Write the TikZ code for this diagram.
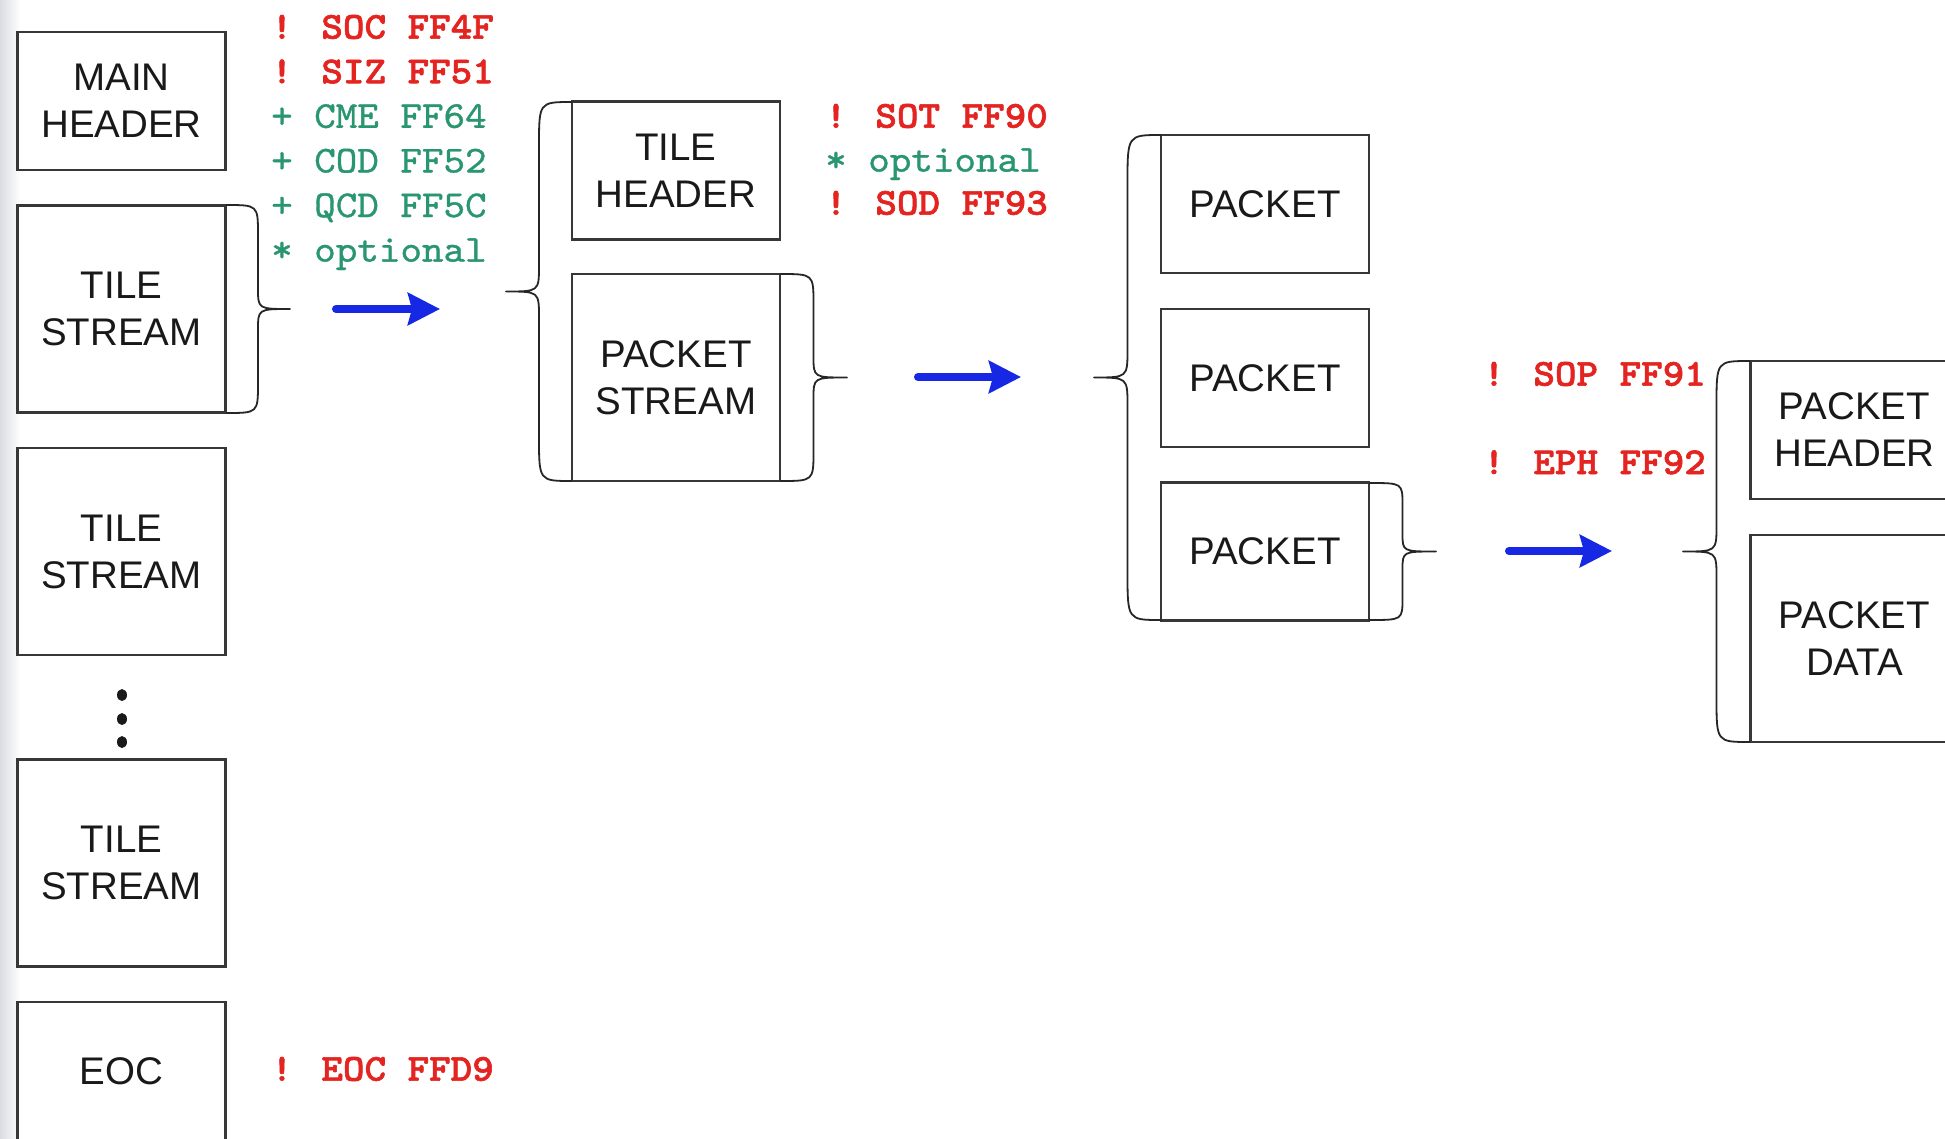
\documentclass[tikz,border=0pt]{standalone}
\usepackage{fontspec}
\setmainfont{Liberation Sans}
\newfontfamily\markbold{lmmonolt10-bold.otf}[FakeStretch=1.08, FakeBold=1.6]
\newfontfamily\markreg{lmmono10-regular.otf}[FakeStretch=1.08, FakeBold=0.9]
\usetikzlibrary{arrows.meta}
\definecolor{mkred}{RGB}{228,36,32}
\definecolor{mkgreen}{RGB}{42,150,112}
\definecolor{flow}{RGB}{22,40,228}
\definecolor{edge}{RGB}{55,55,55}
\definecolor{bgside}{RGB}{218,220,226}
\tikzset{
  blk/.style={draw=edge, line width=2.2pt, fill=white, minimum width=208pt, inner sep=0pt,
    align=center, font=\fontsize{38.5}{47}\selectfont, text=black!90},
  shortblk/.style={blk, minimum height=138pt},
  tallblk/.style={blk, minimum height=207pt},
  brc/.style={draw=black!85, line width=1.8pt, line join=round},
  flowarrow/.style={draw=flow, line width=8pt, line cap=round,
    -{Stealth[length=32pt,width=32pt,inset=4pt]}},
  redmk/.style={anchor=base west, inner sep=0pt, text=mkred, font=\fontsize{38}{44}\markbold},
  greenmk/.style={anchor=base west, inner sep=0pt, text=mkgreen, font=\fontsize{38}{44}\markreg},
}
\newcommand\curlybrace[6]{%
  \pgfmathsetmacro\bxa{#1+(#4)/2}%
  \pgfmathsetmacro\bxt{#1+(#4)}%
  \pgfmathsetmacro\bym{(#2+#3)/2}%
  \pgfmathsetmacro\byb{#2+#5}%
  \pgfmathsetmacro\byc{\bym-#6}%
  \pgfmathsetmacro\byd{\bym+#6}%
  \pgfmathsetmacro\bye{#3-#5}%
  \draw[brc] (#1,#2) .. controls (\bxa,#2) .. (\bxa,\byb) -- (\bxa,\byc)
    .. controls (\bxa,\bym) .. (\bxt,\bym) .. controls (\bxa,\bym) .. (\bxa,\byd)
    -- (\bxa,\bye) .. controls (\bxa,#3) .. (#1,#3);
}
\begin{document}
\begin{tikzpicture}[x=1pt,y=-1pt]
\useasboundingbox (0,0) rectangle (1945,1138);
\fill[white] (0,0) rectangle (1945,1138);
\shade[left color=bgside, right color=white] (0,0) rectangle (20,1138);

% left column
\node[shortblk] (mainhdr) at (121.5,101) {MAIN\\HEADER};
\node[tallblk] (ts1) at (121.5,309) {TILE\\STREAM};
\node[tallblk] (ts2) at (121.5,551.5) {TILE\\STREAM};
\node[tallblk] (ts3) at (121.5,863) {TILE\\STREAM};
\node[shortblk] (eoc) at (121.5,1071) {EOC};
\fill[black!90] (122,695) ellipse [x radius=5pt, y radius=6pt];
\fill[black!90] (122,719) ellipse [x radius=5pt, y radius=6pt];
\fill[black!90] (122,742) ellipse [x radius=5pt, y radius=6pt];

% tile
\node[shortblk] (tilehdr) at (676,170.5) {TILE\\HEADER};
\node[tallblk] (pktstream) at (676,377.5) {PACKET\\STREAM};

% packets
\node[shortblk] (pk1) at (1265,204) {PACKET};
\node[shortblk] (pk2) at (1265,378) {PACKET};
\node[shortblk] (pk3) at (1265,551.5) {PACKET};

% packet parts
\node[shortblk] (pkthdr) at (1854.5,430) {PACKET\\HEADER};
\node[tallblk] (pktdata) at (1854.5,638.5) {PACKET\\DATA};

% braces
\curlybrace{226}{205}{413}{64}{30}{21}
\curlybrace{572}{102}{481}{-66}{44}{26}
\curlybrace{780}{274}{481}{67}{30}{21}
\curlybrace{1161}{135}{620}{-67}{48}{28}
\curlybrace{1369}{483}{620}{67}{22}{18}
\curlybrace{1750}{361}{742}{-67}{44}{26}

% arrows
\coordinate (arr1s) at (336,309);
\coordinate (arr1e) at (440,309);
\coordinate (arr2s) at (918,377);
\coordinate (arr2e) at (1021,377);
\coordinate (arr3s) at (1509,551);
\coordinate (arr3e) at (1612,551);
\draw[flowarrow] (arr1s) -- (arr1e);
\draw[flowarrow] (arr2s) -- (arr2e);
\draw[flowarrow] (arr3s) -- (arr3e);

% marker lists
\node[redmk] (soc) at (271,38.6) {! SOC FF4F};
\node[redmk] (siz) at (271,83.2) {! SIZ FF51};
\node[greenmk] (cme) at (271,127.8) {+ CME FF64};
\node[greenmk] (cod) at (271,172.4) {+ COD FF52};
\node[greenmk] (qcd) at (271,217) {+ QCD FF5C};
\node[greenmk] (opt1) at (271,261.6) {* optional};

\node[redmk] (sot) at (825,127.6) {! SOT FF90};
\node[greenmk] (opt2) at (825,171.6) {* optional};
\node[redmk] (sod) at (825,214.6) {! SOD FF93};

\node[redmk] (sop) at (1483,385.6) {! SOP FF91};
\node[redmk] (eph) at (1483,474) {! EPH FF92};

\node[redmk] (eocmk) at (271,1080.6) {! EOC FFD9};
\end{tikzpicture}
\end{document}
